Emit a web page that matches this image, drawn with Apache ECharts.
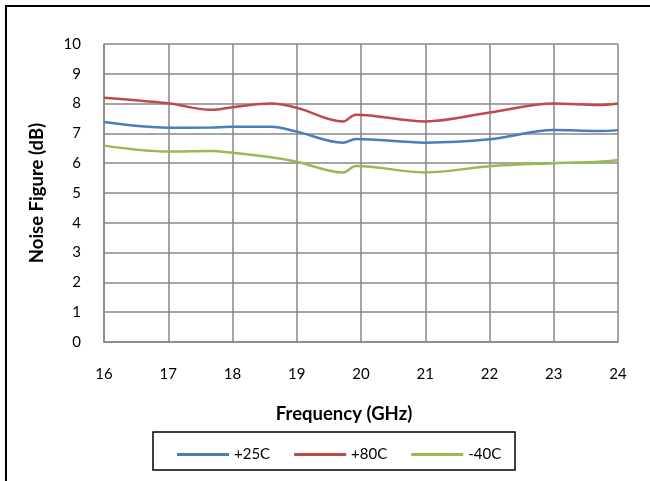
<!DOCTYPE html>
<html>
<head>
<meta charset="utf-8">
<script src="https://cdn.jsdelivr.net/npm/echarts@6/dist/echarts.min.js"></script>
<style>
html,body{margin:0;padding:0;background:#fff;}
#chart{width:650px;height:481px;}
</style>
</head>
<body>
<div id="chart"></div>
<script>
const freqGHz = [16, 17, 17.66, 18, 18.6, 19, 19.72, 19.92, 21, 22, 23, 23.7, 24];
const nf25C  = [7.38, 7.19, 7.2, 7.22, 7.22, 7.06, 6.69, 6.81, 6.69, 6.8, 7.11, 7.08, 7.11];
const nf80C  = [8.2, 8.01, 7.79, 7.88, 8.0, 7.86, 7.4, 7.63, 7.4, 7.7, 8.0, 7.95, 8.0];
const nfm40C = [6.59, 6.39, 6.41, 6.35, 6.2, 6.05, 5.69, 5.91, 5.69, 5.9, 6.0, 6.05, 6.11];
const seriesNames = ['+25C', '+80C', '-40C'];
const seriesColors = ['#4a7ebb', '#be4b48', '#98b954'];
const xTicks = [16, 17, 18, 19, 20, 21, 22, 23, 24];
const yTicks = [0, 1, 2, 3, 4, 5, 6, 7, 8, 9, 10];

const FONT = 'Lato';
const pairs = arr => freqGHz.map((f, i) => [f, arr[i]]);
const allData = [nf25C, nf80C, nfm40C];

const chart = echarts.init(document.getElementById('chart'), null, {renderer: 'canvas'});
chart.setOption({
  animation: false,
  backgroundColor: '#ffffff',
  textStyle: {fontFamily: FONT},
  grid: {left: 104, right: 32, top: 44, bottom: 139, containLabel: false},
  xAxis: {
    type: 'value',
    min: xTicks[0], max: xTicks[xTicks.length - 1], interval: 1,
    name: 'Frequency (GHz)',
    nameLocation: 'middle',
    nameGap: 63,
    nameTextStyle: {fontFamily: FONT, fontWeight: 'bold', fontSize: 18.5, color: '#000', padding: [0, 34, 0, 0]},
    axisLine: {show: true, lineStyle: {color: '#878787', width: 1.5}},
    axisTick: {show: false},
    axisLabel: {margin: 25, fontSize: 15, color: '#000', fontFamily: FONT},
    splitLine: {show: true, lineStyle: {color: '#878787', width: 1.5}}
  },
  yAxis: {
    type: 'value',
    min: yTicks[0], max: yTicks[yTicks.length - 1], interval: 1,
    name: 'Noise Figure (dB)',
    nameLocation: 'middle',
    nameGap: 57,
    nameTextStyle: {fontFamily: FONT, fontWeight: 'bold', fontSize: 18.5, color: '#000'},
    axisLine: {show: true, lineStyle: {color: '#878787', width: 1.5}},
    axisTick: {show: false},
    axisLabel: {margin: 23, fontSize: 15, color: '#000', fontFamily: FONT},
    splitLine: {show: true, lineStyle: {color: '#878787', width: 1.5}}
  },
  legend: {
    left: 172, top: 442,
    itemWidth: 52, itemHeight: 3, itemGap: 24,
    icon: 'rect',
    textStyle: {fontSize: 15, color: '#000', fontFamily: FONT, padding: [0, 0, 0, 0]},
    data: seriesNames
  },
  graphic: [
    {type: 'rect', silent: true, z: 100, shape: {x: 6, y: 6, width: 700, height: 600},
     style: {fill: 'none', stroke: '#000', lineWidth: 2}},
    {type: 'rect', silent: true, z: 100, shape: {x: 153, y: 432, width: 362, height: 38},
     style: {fill: 'none', stroke: '#000', lineWidth: 1.5}}
  ],
  series: seriesNames.map((n, i) => ({
    name: n,
    type: 'line',
    data: pairs(allData[i]),
    smooth: 0.35,
    showSymbol: false,
    symbol: 'none',
    lineStyle: {color: seriesColors[i], width: 2.5},
    itemStyle: {color: seriesColors[i]}
  }))
});
</script>
</body>
</html>
